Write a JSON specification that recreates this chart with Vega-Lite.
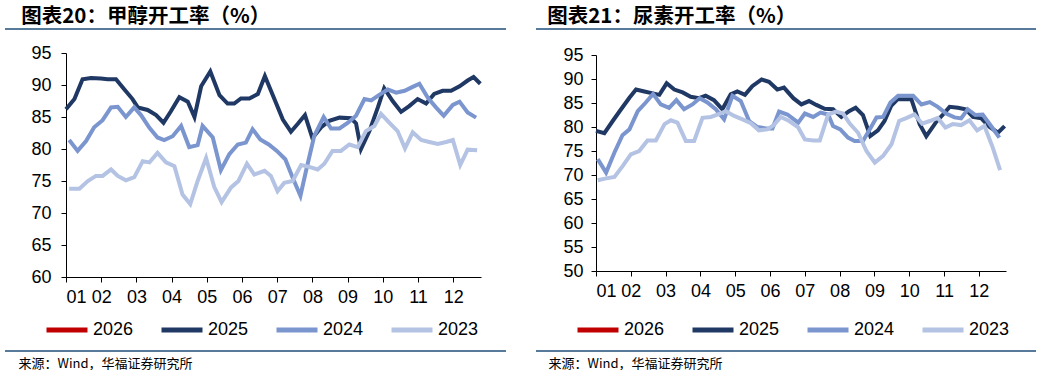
{
  "$schema": "https://vega.github.io/schema/vega-lite/v6.json",
  "background": "white",
  "padding": {"left": 4, "top": 6, "right": 0, "bottom": 0},
  "spacing": 28,
  "config": {
    "view": {"stroke": null},
    "axis": {"grid": false, "domainColor": "#000000", "domainWidth": 1, "tickColor": "#000000", "tickSize": 5, "labelFont": "Liberation Sans", "labelFontSize": 18, "labelColor": "#000000", "labelOverlap": false},
    "title": {"font": "Noto Sans CJK SC", "fontSize": 20.5, "fontWeight": "bold", "color": "#000000", "anchor": "start", "offset": 1}
  },
  "datasets": {
    "meth": [
      {"s":"2025","m":1.00,"v":86.2},{"s":"2025","m":1.24,"v":87.8},{"s":"2025","m":1.47,"v":90.9},{"s":"2025","m":1.71,"v":91.1},{"s":"2025","m":1.99,"v":91.0},{"s":"2025","m":2.18,"v":90.9},{"s":"2025","m":2.42,"v":90.9},{"s":"2025","m":2.66,"v":89.3},{"s":"2025","m":2.89,"v":87.8},{"s":"2025","m":3.04,"v":86.5},{"s":"2025","m":3.32,"v":86.1},{"s":"2025","m":3.56,"v":85.3},{"s":"2025","m":3.77,"v":84.1},{"s":"2025","m":3.98,"v":85.9},{"s":"2025","m":4.22,"v":88.1},{"s":"2025","m":4.46,"v":87.4},{"s":"2025","m":4.65,"v":85.0},{"s":"2025","m":4.84,"v":89.8},{"s":"2025","m":5.10,"v":92.1},{"s":"2025","m":5.36,"v":88.4},{"s":"2025","m":5.59,"v":87.1},{"s":"2025","m":5.78,"v":87.1},{"s":"2025","m":5.97,"v":87.9},{"s":"2025","m":6.21,"v":87.9},{"s":"2025","m":6.45,"v":88.6},{"s":"2025","m":6.65,"v":91.4},{"s":"2025","m":6.92,"v":87.8},{"s":"2025","m":7.16,"v":84.6},{"s":"2025","m":7.39,"v":82.7},{"s":"2025","m":7.58,"v":83.9},{"s":"2025","m":7.79,"v":85.3},{"s":"2025","m":8.00,"v":81.7},{"s":"2025","m":8.25,"v":83.4},{"s":"2025","m":8.48,"v":84.4},{"s":"2025","m":8.77,"v":84.9},{"s":"2025","m":9.10,"v":84.8},{"s":"2025","m":9.24,"v":84.0},{"s":"2025","m":9.38,"v":80.0},{"s":"2025","m":9.62,"v":82.8},{"s":"2025","m":9.86,"v":86.5},{"s":"2025","m":10.04,"v":89.5},{"s":"2025","m":10.28,"v":87.5},{"s":"2025","m":10.52,"v":85.8},{"s":"2025","m":10.75,"v":86.7},{"s":"2025","m":10.99,"v":87.8},{"s":"2025","m":11.23,"v":87.1},{"s":"2025","m":11.46,"v":88.6},{"s":"2025","m":11.70,"v":89.1},{"s":"2025","m":11.94,"v":89.1},{"s":"2025","m":12.18,"v":89.8},{"s":"2025","m":12.41,"v":90.7},{"s":"2025","m":12.58,"v":91.25},{"s":"2025","m":12.77,"v":90.2},
      {"s":"2024","m":1.09,"v":81.4},{"s":"2024","m":1.33,"v":79.7},{"s":"2024","m":1.57,"v":81.25},{"s":"2024","m":1.80,"v":83.4},{"s":"2024","m":2.04,"v":84.5},{"s":"2024","m":2.28,"v":86.5},{"s":"2024","m":2.47,"v":86.6},{"s":"2024","m":2.70,"v":85.0},{"s":"2024","m":2.94,"v":86.5},{"s":"2024","m":3.13,"v":85.3},{"s":"2024","m":3.37,"v":83.3},{"s":"2024","m":3.60,"v":81.8},{"s":"2024","m":3.79,"v":81.4},{"s":"2024","m":4.03,"v":82.0},{"s":"2024","m":4.27,"v":83.6},{"s":"2024","m":4.50,"v":80.3},{"s":"2024","m":4.74,"v":80.6},{"s":"2024","m":4.88,"v":83.6},{"s":"2024","m":5.17,"v":81.8},{"s":"2024","m":5.40,"v":76.7},{"s":"2024","m":5.64,"v":79.2},{"s":"2024","m":5.88,"v":80.7},{"s":"2024","m":6.11,"v":81.0},{"s":"2024","m":6.30,"v":83.1},{"s":"2024","m":6.52,"v":81.5},{"s":"2024","m":6.76,"v":80.7},{"s":"2024","m":6.99,"v":79.7},{"s":"2024","m":7.23,"v":78.4},{"s":"2024","m":7.44,"v":75.5},{"s":"2024","m":7.66,"v":72.7},{"s":"2024","m":7.82,"v":76.6},{"s":"2024","m":8.05,"v":82.0},{"s":"2024","m":8.32,"v":85.0},{"s":"2024","m":8.53,"v":83.2},{"s":"2024","m":8.77,"v":83.2},{"s":"2024","m":9.01,"v":84.1},{"s":"2024","m":9.24,"v":85.2},{"s":"2024","m":9.48,"v":87.8},{"s":"2024","m":9.67,"v":87.6},{"s":"2024","m":9.91,"v":88.5},{"s":"2024","m":10.14,"v":89.3},{"s":"2024","m":10.38,"v":88.8},{"s":"2024","m":10.62,"v":89.1},{"s":"2024","m":10.85,"v":89.7},{"s":"2024","m":11.04,"v":90.2},{"s":"2024","m":11.28,"v":88.0},{"s":"2024","m":11.51,"v":86.5},{"s":"2024","m":11.73,"v":85.2},{"s":"2024","m":11.99,"v":86.9},{"s":"2024","m":12.18,"v":87.4},{"s":"2024","m":12.41,"v":85.7},{"s":"2024","m":12.65,"v":84.9},
      {"s":"2023","m":1.09,"v":73.8},{"s":"2023","m":1.38,"v":73.8},{"s":"2023","m":1.62,"v":75.0},{"s":"2023","m":1.85,"v":75.8},{"s":"2023","m":2.04,"v":75.8},{"s":"2023","m":2.28,"v":76.8},{"s":"2023","m":2.47,"v":75.8},{"s":"2023","m":2.70,"v":75.1},{"s":"2023","m":2.94,"v":75.6},{"s":"2023","m":3.18,"v":78.1},{"s":"2023","m":3.37,"v":77.9},{"s":"2023","m":3.60,"v":79.4},{"s":"2023","m":3.84,"v":77.9},{"s":"2023","m":4.08,"v":77.3},{"s":"2023","m":4.31,"v":72.9},{"s":"2023","m":4.53,"v":71.4},{"s":"2023","m":4.74,"v":75.0},{"s":"2023","m":4.98,"v":78.6},{"s":"2023","m":5.21,"v":74.1},{"s":"2023","m":5.42,"v":71.7},{"s":"2023","m":5.69,"v":74.0},{"s":"2023","m":5.90,"v":75.0},{"s":"2023","m":6.14,"v":77.7},{"s":"2023","m":6.35,"v":76.0},{"s":"2023","m":6.64,"v":76.6},{"s":"2023","m":6.82,"v":75.8},{"s":"2023","m":7.01,"v":73.4},{"s":"2023","m":7.20,"v":74.7},{"s":"2023","m":7.44,"v":75.0},{"s":"2023","m":7.68,"v":77.5},{"s":"2023","m":7.91,"v":77.2},{"s":"2023","m":8.15,"v":76.8},{"s":"2023","m":8.34,"v":77.7},{"s":"2023","m":8.57,"v":79.7},{"s":"2023","m":8.81,"v":79.7},{"s":"2023","m":9.05,"v":80.7},{"s":"2023","m":9.29,"v":80.3},{"s":"2023","m":9.52,"v":82.8},{"s":"2023","m":9.76,"v":83.6},{"s":"2023","m":9.95,"v":85.5},{"s":"2023","m":10.19,"v":84.1},{"s":"2023","m":10.42,"v":82.8},{"s":"2023","m":10.63,"v":80.1},{"s":"2023","m":10.85,"v":82.6},{"s":"2023","m":11.09,"v":81.4},{"s":"2023","m":11.32,"v":81.1},{"s":"2023","m":11.56,"v":80.8},{"s":"2023","m":11.80,"v":81.1},{"s":"2023","m":11.99,"v":81.4},{"s":"2023","m":12.20,"v":77.5},{"s":"2023","m":12.41,"v":79.9},{"s":"2023","m":12.68,"v":79.8}
    ],
    "urea": [
      {"s":"2025","m":1.00,"v":79.2},{"s":"2025","m":1.24,"v":78.7},{"s":"2025","m":1.48,"v":81.25},{"s":"2025","m":1.72,"v":83.7},{"s":"2025","m":1.96,"v":86.1},{"s":"2025","m":2.15,"v":87.8},{"s":"2025","m":2.39,"v":87.4},{"s":"2025","m":2.63,"v":87.0},{"s":"2025","m":2.82,"v":86.7},{"s":"2025","m":3.03,"v":89.1},{"s":"2025","m":3.25,"v":87.8},{"s":"2025","m":3.49,"v":87.2},{"s":"2025","m":3.72,"v":86.3},{"s":"2025","m":3.96,"v":86.0},{"s":"2025","m":4.15,"v":86.5},{"s":"2025","m":4.39,"v":85.6},{"s":"2025","m":4.63,"v":83.7},{"s":"2025","m":4.87,"v":86.8},{"s":"2025","m":5.06,"v":87.4},{"s":"2025","m":5.28,"v":86.7},{"s":"2025","m":5.49,"v":88.5},{"s":"2025","m":5.76,"v":89.9},{"s":"2025","m":5.97,"v":89.4},{"s":"2025","m":6.21,"v":87.8},{"s":"2025","m":6.40,"v":88.2},{"s":"2025","m":6.67,"v":86.0},{"s":"2025","m":6.90,"v":84.7},{"s":"2025","m":7.12,"v":85.4},{"s":"2025","m":7.33,"v":84.6},{"s":"2025","m":7.57,"v":83.8},{"s":"2025","m":7.81,"v":83.7},{"s":"2025","m":8.05,"v":82.1},{"s":"2025","m":8.27,"v":83.3},{"s":"2025","m":8.46,"v":84.0},{"s":"2025","m":8.67,"v":82.5},{"s":"2025","m":8.88,"v":78.1},{"s":"2025","m":9.10,"v":79.3},{"s":"2025","m":9.29,"v":81.25},{"s":"2025","m":9.48,"v":84.4},{"s":"2025","m":9.67,"v":85.8},{"s":"2025","m":10.06,"v":85.8},{"s":"2025","m":10.30,"v":80.6},{"s":"2025","m":10.49,"v":78.1},{"s":"2025","m":10.78,"v":81.1},{"s":"2025","m":10.97,"v":82.6},{"s":"2025","m":11.16,"v":84.2},{"s":"2025","m":11.40,"v":84.0},{"s":"2025","m":11.62,"v":83.7},{"s":"2025","m":11.83,"v":82.1},{"s":"2025","m":12.07,"v":81.8},{"s":"2025","m":12.31,"v":80.0},{"s":"2025","m":12.55,"v":78.8},{"s":"2025","m":12.74,"v":80.2},
      {"s":"2024","m":1.05,"v":73.3},{"s":"2024","m":1.29,"v":70.5},{"s":"2024","m":1.53,"v":74.7},{"s":"2024","m":1.76,"v":78.3},{"s":"2024","m":1.96,"v":79.5},{"s":"2024","m":2.20,"v":83.3},{"s":"2024","m":2.43,"v":85.1},{"s":"2024","m":2.64,"v":86.9},{"s":"2024","m":2.86,"v":84.7},{"s":"2024","m":3.10,"v":84.0},{"s":"2024","m":3.31,"v":85.6},{"s":"2024","m":3.53,"v":83.7},{"s":"2024","m":3.77,"v":84.7},{"s":"2024","m":3.98,"v":86.0},{"s":"2024","m":4.20,"v":85.1},{"s":"2024","m":4.44,"v":83.7},{"s":"2024","m":4.68,"v":81.6},{"s":"2024","m":4.92,"v":86.5},{"s":"2024","m":5.16,"v":85.4},{"s":"2024","m":5.40,"v":81.25},{"s":"2024","m":5.64,"v":80.0},{"s":"2024","m":5.88,"v":79.7},{"s":"2024","m":6.07,"v":79.7},{"s":"2024","m":6.26,"v":83.2},{"s":"2024","m":6.50,"v":82.6},{"s":"2024","m":6.81,"v":80.9},{"s":"2024","m":7.00,"v":82.8},{"s":"2024","m":7.24,"v":82.1},{"s":"2024","m":7.45,"v":83.0},{"s":"2024","m":7.67,"v":82.6},{"s":"2024","m":7.81,"v":80.2},{"s":"2024","m":8.02,"v":79.5},{"s":"2024","m":8.24,"v":77.8},{"s":"2024","m":8.43,"v":77.1},{"s":"2024","m":8.67,"v":77.1},{"s":"2024","m":8.88,"v":79.7},{"s":"2024","m":9.06,"v":82.0},{"s":"2024","m":9.25,"v":82.1},{"s":"2024","m":9.46,"v":85.1},{"s":"2024","m":9.68,"v":86.5},{"s":"2024","m":9.92,"v":86.5},{"s":"2024","m":10.11,"v":86.5},{"s":"2024","m":10.35,"v":84.7},{"s":"2024","m":10.59,"v":85.2},{"s":"2024","m":10.82,"v":84.2},{"s":"2024","m":11.06,"v":82.8},{"s":"2024","m":11.30,"v":82.0},{"s":"2024","m":11.49,"v":81.8},{"s":"2024","m":11.68,"v":83.7},{"s":"2024","m":11.90,"v":82.5},{"s":"2024","m":12.11,"v":82.6},{"s":"2024","m":12.35,"v":80.2},{"s":"2024","m":12.59,"v":77.8},
      {"s":"2023","m":1.05,"v":68.9},{"s":"2023","m":1.29,"v":69.3},{"s":"2023","m":1.53,"v":69.6},{"s":"2023","m":1.77,"v":71.9},{"s":"2023","m":2.00,"v":74.3},{"s":"2023","m":2.24,"v":75.0},{"s":"2023","m":2.48,"v":77.2},{"s":"2023","m":2.72,"v":77.2},{"s":"2023","m":2.97,"v":80.6},{"s":"2023","m":3.15,"v":81.4},{"s":"2023","m":3.34,"v":80.9},{"s":"2023","m":3.58,"v":77.1},{"s":"2023","m":3.82,"v":77.1},{"s":"2023","m":4.06,"v":81.9},{"s":"2023","m":4.30,"v":82.1},{"s":"2023","m":4.49,"v":82.6},{"s":"2023","m":4.73,"v":83.3},{"s":"2023","m":4.97,"v":82.3},{"s":"2023","m":5.21,"v":81.6},{"s":"2023","m":5.45,"v":80.8},{"s":"2023","m":5.68,"v":79.3},{"s":"2023","m":5.92,"v":79.5},{"s":"2023","m":6.11,"v":80.4},{"s":"2023","m":6.31,"v":82.1},{"s":"2023","m":6.55,"v":81.25},{"s":"2023","m":6.81,"v":79.9},{"s":"2023","m":7.00,"v":77.4},{"s":"2023","m":7.24,"v":77.2},{"s":"2023","m":7.43,"v":77.2},{"s":"2023","m":7.67,"v":82.6},{"s":"2023","m":7.89,"v":83.2},{"s":"2023","m":8.10,"v":82.8},{"s":"2023","m":8.29,"v":80.7},{"s":"2023","m":8.53,"v":78.8},{"s":"2023","m":8.77,"v":75.0},{"s":"2023","m":9.01,"v":72.6},{"s":"2023","m":9.25,"v":74.0},{"s":"2023","m":9.49,"v":76.4},{"s":"2023","m":9.71,"v":81.25},{"s":"2023","m":9.93,"v":81.9},{"s":"2023","m":10.15,"v":82.6},{"s":"2023","m":10.37,"v":80.7},{"s":"2023","m":10.59,"v":81.25},{"s":"2023","m":10.82,"v":81.9},{"s":"2023","m":11.04,"v":79.9},{"s":"2023","m":11.25,"v":80.6},{"s":"2023","m":11.49,"v":80.4},{"s":"2023","m":11.73,"v":81.4},{"s":"2023","m":11.95,"v":79.3},{"s":"2023","m":12.16,"v":80.2},{"s":"2023","m":12.40,"v":75.7},{"s":"2023","m":12.61,"v":71.0}
    ]
  },
  "hconcat": [
    {
      "width": 501,
      "height": 322,
      "title": {"text": "图表20：甲醇开工率（%）", "dx": 17},
      "layer": [
        {
          "data": {"name": "meth"},
          "mark": {"type": "line", "strokeWidth": 4},
          "encoding": {
            "x": {"field": "m", "type": "quantitative", "scale": {"domain": [1, 12.79], "range": [61, 476], "nice": false, "zero": false},
                  "axis": {"values": [1,2,3,4,5,6,7,8,9,10,11,12], "labelExpr": "datum.value < 10 ? '0' + datum.value : '' + datum.value", "offset": -74, "labelPadding": 6, "labelOverlap": false,
                           "title": "来源：Wind，华福证券研究所", "titleFont": "Noto Sans CJK SC", "titleFontSize": 13, "titleFontWeight": "normal", "titleColor": "#000000", "titleAlign": "left", "titleBaseline": "middle", "titleAnchor": "start", "titleX": 13, "titleY": 86}},
            "y": {"field": "v", "type": "quantitative", "scale": {"domain": [60, 95], "range": [248, 24], "nice": false, "zero": false},
                  "axis": {"values": [60,65,70,75,80,85,90,95], "offset": -61, "title": null, "labelPadding": 10, "labelOverlap": false}},
            "color": {"field": "s", "type": "nominal", "sort": ["2026","2025","2024","2023"],
                      "scale": {"domain": ["2026","2025","2024","2023"], "range": ["#c00000","#203864","#7b95cf","#b4c3e3"]},
                      "legend": {"orient": "none", "legendX": 39, "legendY": 278, "direction": "horizontal", "columns": 4, "title": null, "symbolType": "stroke", "symbolSize": 1681, "symbolStrokeWidth": 5, "labelFont": "Liberation Sans", "labelFontSize": 18, "labelColor": "#000000", "labelOffset": 3, "columnPadding": 17, "padding": 0}}
          }
        },
        {"data": {"values": [{}]}, "mark": {"type": "rule", "color": "#1f4e79", "strokeWidth": 1.5, "clip": false}, "encoding": {"y": {"datum": 98.75, "type": "quantitative", "axis": {"values": [60,65,70,75,80,85,90,95], "offset": -61, "title": null, "labelPadding": 10, "labelOverlap": false}}}},
        {"data": {"values": [{}]}, "mark": {"type": "rule", "color": "#1f4e79", "strokeWidth": 1.5, "clip": false}, "encoding": {"y": {"datum": 48.44, "type": "quantitative", "axis": {"values": [60,65,70,75,80,85,90,95], "offset": -61, "title": null, "labelPadding": 10, "labelOverlap": false}}}}
      ]
    },
    {
      "width": 500,
      "height": 322,
      "title": {"text": "图表21：尿素开工率（%）", "dx": 12},
      "layer": [
        {
          "data": {"name": "urea"},
          "mark": {"type": "line", "strokeWidth": 4},
          "encoding": {
            "x": {"field": "m", "type": "quantitative", "scale": {"domain": [1, 12.78], "range": [60, 470], "nice": false, "zero": false},
                  "axis": {"values": [1,2,3,4,5,6,7,8,9,10,11,12], "labelExpr": "datum.value < 10 ? '0' + datum.value : '' + datum.value", "offset": -80, "labelPadding": 6, "labelOverlap": false,
                           "title": "来源：Wind，华福证券研究所", "titleFont": "Noto Sans CJK SC", "titleFontSize": 13, "titleFontWeight": "normal", "titleColor": "#000000", "titleAlign": "left", "titleBaseline": "middle", "titleAnchor": "start", "titleX": 12, "titleY": 92}},
            "y": {"field": "v", "type": "quantitative", "scale": {"domain": [50, 95], "range": [242, 26], "nice": false, "zero": false},
                  "axis": {"values": [50,55,60,65,70,75,80,85,90,95], "offset": -60, "title": null, "labelPadding": 8, "labelOverlap": false}},
            "color": {"field": "s", "type": "nominal", "sort": ["2026","2025","2024","2023"],
                      "scale": {"domain": ["2026","2025","2024","2023"], "range": ["#c00000","#203864","#7b95cf","#b4c3e3"]},
                      "legend": {"orient": "none", "legendX": 39, "legendY": 278, "direction": "horizontal", "columns": 4, "title": null, "symbolType": "stroke", "symbolSize": 1681, "symbolStrokeWidth": 5, "labelFont": "Liberation Sans", "labelFontSize": 18, "labelColor": "#000000", "labelOffset": 3, "columnPadding": 17, "padding": 0}}
          }
        },
        {"data": {"values": [{}]}, "mark": {"type": "rule", "color": "#1f4e79", "strokeWidth": 1.5, "clip": false}, "encoding": {"y": {"datum": 100.42, "type": "quantitative", "axis": {"values": [50,55,60,65,70,75,80,85,90,95], "offset": -60, "title": null, "labelPadding": 8, "labelOverlap": false}}}},
        {"data": {"values": [{}]}, "mark": {"type": "rule", "color": "#1f4e79", "strokeWidth": 1.5, "clip": false}, "encoding": {"y": {"datum": 33.33, "type": "quantitative", "axis": {"values": [50,55,60,65,70,75,80,85,90,95], "offset": -60, "title": null, "labelPadding": 8, "labelOverlap": false}}}}
      ]
    }
  ],
  "resolve": {"scale": {"color": "independent", "x": "independent", "y": "independent"}, "legend": {"color": "independent"}}
}
